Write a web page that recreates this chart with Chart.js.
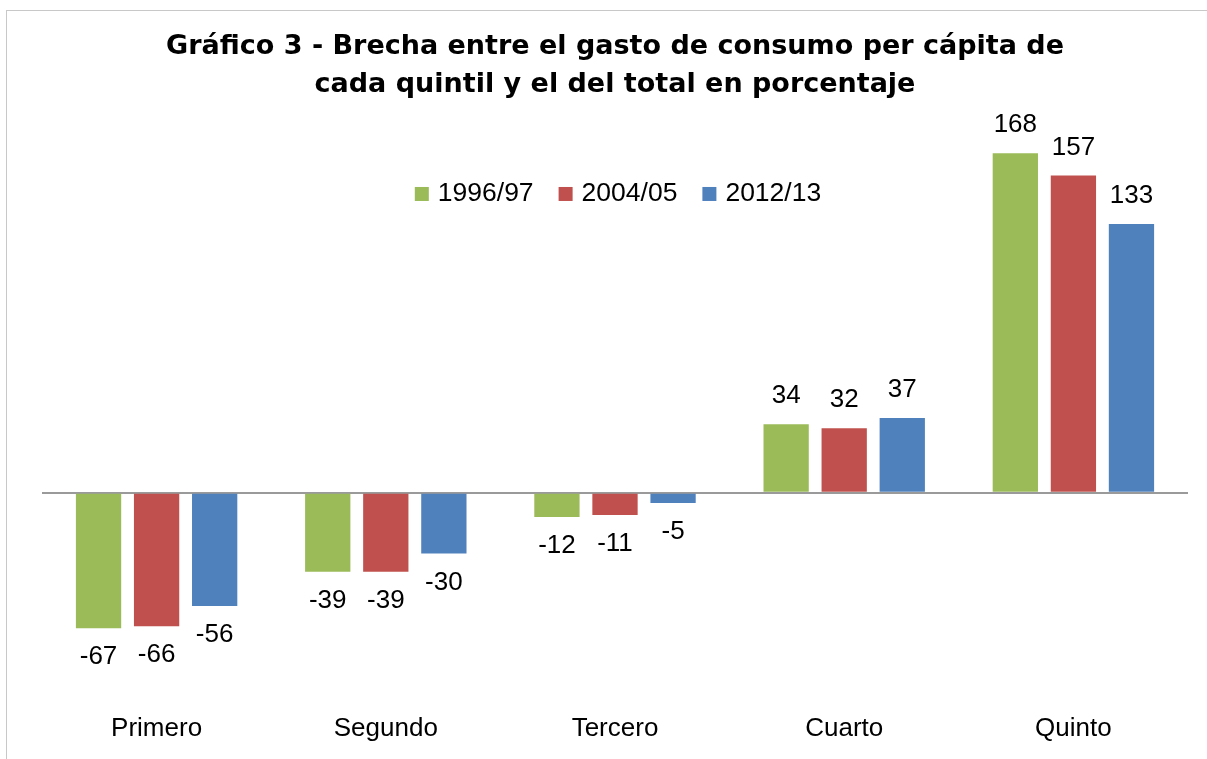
<!DOCTYPE html>
<html>
<head>
<meta charset="utf-8">
<script src="https://cdn.jsdelivr.net/npm/chart.js@4.4.0/dist/chart.umd.min.js"></script>
<style>
  html, body { margin: 0; padding: 0; background: #fff; overflow: hidden; }
  #frame { position: absolute; left: 6px; top: 10px; width: 1400px; height: 900px;
           border-left: 1px solid #c8c8c8; border-top: 1px solid #c8c8c8; }
  #wrap { position: absolute; left: 0; top: 0; width: 1207px; height: 759px; }
</style>
</head>
<body>
<div id="frame"></div>
<div id="wrap"><canvas id="chart"></canvas></div>
<script>
// Brecha del gasto de consumo per cápita por quintil (%)
const quintiles = ['Primero', 'Segundo', 'Tercero', 'Cuarto', 'Quinto'];
const serie1996 = [-67, -39, -12, 34, 168];
const serie2004 = [-66, -39, -11, 32, 157];
const serie2012 = [-56, -30, -5, 37, 133];
const seriesNames = ['1996/97', '2004/05', '2012/13'];
const seriesColors = ['#9BBB59', '#C0504D', '#4F81BD'];

const FONT = '"Liberation Sans", Arial, Helvetica, sans-serif';

// value labels above / below each bar
const valueLabels = {
    id: 'valueLabels',
    afterDatasetsDraw(chart) {
        const ctx = chart.ctx;
        ctx.save();
        ctx.font = '26px ' + FONT;
        ctx.fillStyle = '#000';
        ctx.textAlign = 'center';
        ctx.textBaseline = 'middle';
        chart.data.datasets.forEach((ds, i) => {
            chart.getDatasetMeta(i).data.forEach((bar, j) => {
                const v = ds.data[j];
                const y = v >= 0 ? bar.y - 28 : bar.y + 29;
                ctx.fillText(String(v), bar.x, y);
            });
        });
        ctx.restore();
    }
};

// legend drawn inside the plot area
const innerLegend = {
    id: 'innerLegend',
    afterDraw(chart) {
        const ctx = chart.ctx;
        const area = chart.chartArea;
        ctx.save();
        ctx.font = '26.5px ' + FONT;
        ctx.textBaseline = 'middle';
        const box = 14, gap = 9, itemGap = 25;
        const widths = chart.data.datasets.map(ds => ctx.measureText(ds.label).width);
        const total = widths.reduce((a, w) => a + box + gap + w, 0) + itemGap * (widths.length - 1);
        let x = 618 - total / 2;
        const y = area.top + 69;
        chart.data.datasets.forEach((ds, i) => {
            ctx.fillStyle = ds.backgroundColor;
            ctx.fillRect(x, y - box / 2, box, box);
            x += box + gap;
            ctx.fillStyle = '#000';
            ctx.fillText(ds.label, x, y);
            x += widths[i] + itemGap;
        });
        ctx.restore();
    }
};

const ctx = document.getElementById('chart').getContext('2d');
new Chart(ctx, {
    type: 'bar',
    data: {
        labels: quintiles,
        datasets: [serie1996, serie2004, serie2012].map((d, i) => ({
            label: seriesNames[i],
            data: d,
            backgroundColor: seriesColors[i],
            borderWidth: 0,
            categoryPercentage: 0.76,
            barPercentage: 0.78
        }))
    },
    options: {
        responsive: true,
        maintainAspectRatio: false,
        animation: false,
        layout: { padding: { top: 11, left: 42, right: 19, bottom: -4 } },
        plugins: {
            legend: { display: false },
            tooltip: { enabled: false },
            title: {
                display: true,
                text: ['Gráfico 3 - Brecha entre el gasto de consumo per cápita de',
                       'cada quintil y el del total en porcentaje'],
                color: '#000',
                font: { family: '"DejaVu Sans", sans-serif', size: 27, weight: 'bold', lineHeight: 1.444 },
                padding: { top: 16, bottom: 20 }
            }
        },
        scales: {
            x: {
                grid: { display: false, drawTicks: false },
                border: { display: false },
                ticks: { color: '#000', font: { family: FONT, size: 26, lineHeight: 1.0 }, padding: 21 }
            },
            y: {
                min: -100,
                max: 182,
                ticks: { display: false, stepSize: 2 },
                border: { display: false },
                grid: {
                    drawTicks: false,
                    lineWidth: c => c.tick.value === 0 ? 2 : 0,
                    color: c => c.tick.value === 0 ? '#9a9a9a' : 'rgba(0,0,0,0)'
                }
            }
        }
    },
    plugins: [valueLabels, innerLegend]
});
</script>
</body>
</html>
